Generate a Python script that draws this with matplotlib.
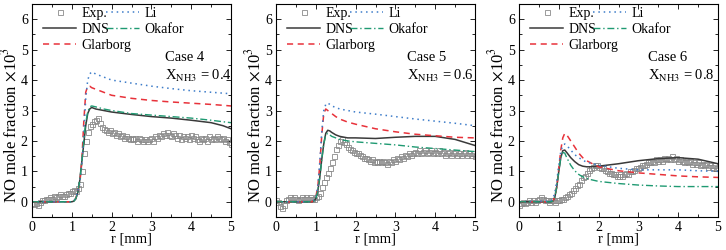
import numpy as np
import matplotlib
matplotlib.use("Agg")
import matplotlib.pyplot as plt
from matplotlib.ticker import MultipleLocator

plt.rcParams['font.family'] = ['Liberation Serif', 'DejaVu Serif']
plt.rcParams['mathtext.fontset'] = 'stix'

cases = ["Case 4", "Case 5", "Case 6"]
x_nh3 = ["0.4", "0.6", "0.8"]

exp_r = np.linspace(0, 5, 101)
exp_c4 = [-0.05, -0.08, -0.05, -0.12, 0.0, 0.05, 0.05, 0.1, 0.1, 0.15, 0.1, 0.2, 0.15, 0.2, 0.25, 0.2, 0.2, 0.25, 0.3, 0.3,
          0.35, 0.4, 0.35, 0.45, 0.6, 1.0, 1.6, 2.0, 2.3, 2.5, 2.55, 2.65, 2.7, 2.75, 2.6, 2.45, 2.4, 2.35, 2.3, 2.35,
          2.25, 2.3, 2.2, 2.25, 2.15, 2.2, 2.1, 2.15, 2.1, 2.05, 2.1, 2.05, 2.1, 2.0, 2.1, 2.05, 2.0, 2.05, 2.0, 2.05,
          2.1, 2.0, 2.15, 2.1, 2.2, 2.15, 2.25, 2.2, 2.3, 2.2, 2.15, 2.25, 2.2, 2.1, 2.2, 2.05, 2.15, 2.1, 2.15, 2.05,
          2.2, 2.1, 2.15, 2.05, 2.0, 2.1, 2.05, 2.1, 2.0, 2.15, 2.05, 2.1, 2.05, 2.15, 2.1, 2.05, 2.1, 2.0, 2.05, 1.95, 1.9]
exp_c5 = [0.05, 0.0, -0.15, -0.2, -0.1, 0.05, 0.1, 0.15, 0.1, 0.15, 0.1, 0.05, 0.1, 0.15, 0.1, 0.15, 0.1, 0.15, 0.1, 0.1,
          0.15, 0.2, 0.3, 0.5, 0.65, 0.8, 0.95, 1.1, 1.3, 1.5, 1.75, 1.85, 2.0, 2.05, 1.95, 1.9, 1.8, 1.75, 1.7, 1.65,
          1.6, 1.6, 1.55, 1.5, 1.45, 1.45, 1.4, 1.35, 1.4, 1.3, 1.35, 1.3, 1.35, 1.3, 1.35, 1.3, 1.25, 1.35, 1.3, 1.4,
          1.35, 1.45, 1.4, 1.5, 1.45, 1.55, 1.5, 1.6, 1.55, 1.6, 1.65, 1.6, 1.7, 1.6, 1.65, 1.7, 1.6, 1.65, 1.7, 1.6,
          1.65, 1.6, 1.7, 1.6, 1.65, 1.55, 1.6, 1.65, 1.55, 1.6, 1.65, 1.55, 1.6, 1.55, 1.6, 1.65, 1.55, 1.6, 1.55, 1.6, 1.5]
exp_c6 = [-0.1, -0.05, 0.0, -0.05, 0.0, 0.05, 0.0, 0.05, 0.0, 0.05, 0.1, 0.15, 0.1, 0.05, 0.05, 0.0, 0.05, 0.05, 0.0, 0.05,
          0.05, 0.1, 0.1, 0.15, 0.2, 0.25, 0.3, 0.4, 0.45, 0.55, 0.6, 0.7, 0.8, 0.85, 0.95, 1.05, 1.1, 1.15, 1.2, 1.2,
          1.15, 1.1, 1.1, 1.05, 1.0, 0.95, 0.95, 0.9, 0.9, 0.85, 0.85, 0.9, 0.85, 0.9, 0.95, 0.9, 1.0, 1.0, 1.05, 1.1,
          1.1, 1.15, 1.2, 1.2, 1.25, 1.3, 1.3, 1.35, 1.3, 1.4, 1.35, 1.4, 1.35, 1.45, 1.4, 1.45, 1.4, 1.5, 1.4, 1.45,
          1.35, 1.4, 1.35, 1.3, 1.35, 1.3, 1.35, 1.25, 1.3, 1.25, 1.3, 1.2, 1.25, 1.2, 1.25, 1.15, 1.2, 1.15, 1.2, 1.1, 1.15]

# Case 4 models
r4_a = [0, 1.0, 1.05, 1.1, 1.15, 1.2, 1.25, 1.3, 1.35, 1.4, 1.45, 1.5, 1.6, 1.8, 2.0, 2.5, 3.0, 3.5, 4.0, 4.5, 4.8, 5.0]
dns_c4 = [0, 0, 0.02, 0.1, 0.3, 0.7, 1.3, 1.9, 2.5, 2.9, 3.05, 3.1, 3.05, 3.0, 2.95, 2.87, 2.8, 2.75, 2.68, 2.6, 2.5, 2.4]
oka_c4 = [0, 0, 0.02, 0.1, 0.3, 0.7, 1.3, 2.0, 2.6, 2.95, 3.12, 3.15, 3.12, 3.05, 3.0, 2.9, 2.85, 2.8, 2.75, 2.68, 2.63, 2.6]
r4_b = [0, 1.0, 1.1, 1.2, 1.25, 1.3, 1.35, 1.4, 1.45, 1.5, 1.6, 1.8, 2.0, 2.5, 3.0, 3.5, 4.0, 4.5, 5.0]
gla_c4 = [0, 0, 0.1, 0.6, 1.3, 2.6, 3.6, 3.8, 3.8, 3.75, 3.7, 3.6, 3.5, 3.4, 3.33, 3.28, 3.24, 3.2, 3.15]
li_c4 = [0, 0, 0.1, 0.6, 1.2, 2.2, 3.4, 4.0, 4.2, 4.27, 4.2, 4.1, 4.0, 3.9, 3.8, 3.72, 3.65, 3.6, 3.55]

# Case 5 models
r5_a = [0, 0.9, 0.95, 1.0, 1.05, 1.1, 1.15, 1.2, 1.25, 1.3, 1.35, 1.4, 1.5, 1.6, 1.8, 2.0, 2.5, 3.0, 3.5, 4.0, 4.5, 5.0]
dns_c5 = [0, 0, 0.02, 0.1, 0.35, 0.8, 1.4, 1.9, 2.25, 2.35, 2.33, 2.28, 2.2, 2.15, 2.1, 2.1, 2.08, 2.12, 2.15, 2.15, 2.05, 1.85]
oka_c5 = [0, 0, 0.02, 0.1, 0.35, 0.8, 1.4, 1.9, 2.2, 2.25, 2.2, 2.15, 2.1, 2.05, 2.0, 1.97, 1.92, 1.87, 1.8, 1.75, 1.7, 1.65]
r5_b = [0, 0.9, 0.95, 1.0, 1.05, 1.1, 1.15, 1.2, 1.25, 1.3, 1.4, 1.5, 1.6, 1.8, 2.0, 2.5, 3.0, 3.5, 4.0, 4.5, 5.0]
gla_c5 = [0, 0, 0.05, 0.15, 0.5, 1.2, 2.2, 2.9, 3.05, 3.0, 2.9, 2.8, 2.72, 2.62, 2.55, 2.4, 2.3, 2.22, 2.17, 2.12, 2.1]
li_c5 = [0, 0, 0.05, 0.15, 0.5, 1.3, 2.3, 3.0, 3.2, 3.25, 3.15, 3.1, 3.05, 3.0, 2.95, 2.88, 2.8, 2.72, 2.65, 2.58, 2.5]

# Case 6 models
r6 = [0, 0.8, 0.85, 0.9, 0.95, 1.0, 1.05, 1.1, 1.15, 1.2, 1.3, 1.4, 1.5, 1.6, 1.7, 1.8, 2.0, 2.5, 3.0, 3.5, 4.0, 4.5, 5.0]
dns_c6 = [0, 0, 0.02, 0.15, 0.5, 1.0, 1.45, 1.68, 1.7, 1.62, 1.45, 1.32, 1.22, 1.17, 1.15, 1.15, 1.17, 1.25, 1.35, 1.42, 1.45, 1.4, 1.25]
oka_c6 = [0, 0, 0.02, 0.15, 0.5, 1.0, 1.45, 1.62, 1.6, 1.45, 1.2, 1.02, 0.9, 0.82, 0.77, 0.73, 0.67, 0.6, 0.55, 0.52, 0.5, 0.5, 0.5]
gla_c6 = [0, 0, 0.02, 0.15, 0.5, 1.1, 1.7, 2.1, 2.25, 2.2, 2.0, 1.8, 1.6, 1.45, 1.35, 1.28, 1.15, 1.02, 0.95, 0.9, 0.85, 0.82, 0.8]
li_c6 = [0, 0.02, 0.1, 0.3, 0.7, 1.2, 1.65, 1.85, 1.9, 1.85, 1.7, 1.55, 1.45, 1.37, 1.3, 1.27, 1.2, 1.1, 1.05, 1.05, 1.05, 1.02, 1.0]

panels = [
    (exp_c4, (r4_a, dns_c4), (r4_a, oka_c4), (r4_b, gla_c4), (r4_b, li_c4)),
    (exp_c5, (r5_a, dns_c5), (r5_a, oka_c5), (r5_b, gla_c5), (r5_b, li_c5)),
    (exp_c6, (r6, dns_c6), (r6, oka_c6), (r6, gla_c6), (r6, li_c6)),
]

fig = plt.figure(figsize=(7.26, 2.5), dpi=100)
lefts = [32 / 726, 276 / 726, 519 / 726]
text_x = [3.33, 3.3, 3.24]
for i, (ex, dns, oka, gla, li) in enumerate(panels):
    ax = fig.add_axes([lefts[i], 1 - 217 / 250, 199 / 726, 213 / 250])
    ax.plot(exp_r, ex, linestyle='none', marker='s', markersize=3.6, markerfacecolor='none',
            markeredgecolor='#8a8a8a', markeredgewidth=0.6, label='Exp.')
    ax.plot(*dns, color='#3a3a3a', lw=1.1, label='DNS')
    ax.plot(*gla, color='#e8323a', lw=1.1, ls=(0, (4, 3)), label='Glarborg')
    ax.plot(*li, color='#3d7cc9', lw=1.1, ls=(0, (1, 2.5)), label='Li')
    ax.plot(*oka, color='#1f9a72', lw=1.0, ls=(0, (5, 2, 1, 2)), label='Okafor')
    ax.set_xlim(0, 5)
    ax.set_ylim(-0.5, 6.5)
    ax.xaxis.set_major_locator(MultipleLocator(1))
    ax.xaxis.set_minor_locator(MultipleLocator(0.5))
    ax.yaxis.set_major_locator(MultipleLocator(1))
    ax.yaxis.set_minor_locator(MultipleLocator(0.5))
    ax.tick_params(which='both', direction='in', top=True, right=True, labelsize=10, width=0.6, pad=3)
    ax.tick_params(which='major', length=3.5)
    ax.tick_params(which='minor', length=2)
    for s in ax.spines.values():
        s.set_linewidth(0.8)
    ax.set_xlabel('r [mm]', fontsize=10.5, labelpad=-1)
    ax.set_ylabel(r'NO mole fraction $\times$10$^3$', fontsize=12)
    ax.yaxis.set_label_coords(-0.058, 0.43)
    h, l = ax.get_legend_handles_labels()
    ax.legend(h, l, ncol=2, loc='upper left', frameon=False,
              fontsize=10, handlelength=2.4, handletextpad=0.35, columnspacing=-1.8, labelspacing=0.2,
              borderaxespad=0.0, borderpad=0.0, bbox_to_anchor=(0.055, 0.985))
    ax.text(text_x[i], 4.75, cases[i], fontsize=10.5, va='center', ha='left')
    ax.text(text_x[i], 4.15, r'X$_{\mathrm{NH3}}$ = ' + x_nh3[i], fontsize=10.5, va='center', ha='left')

fig.savefig('out.png', dpi=100)
